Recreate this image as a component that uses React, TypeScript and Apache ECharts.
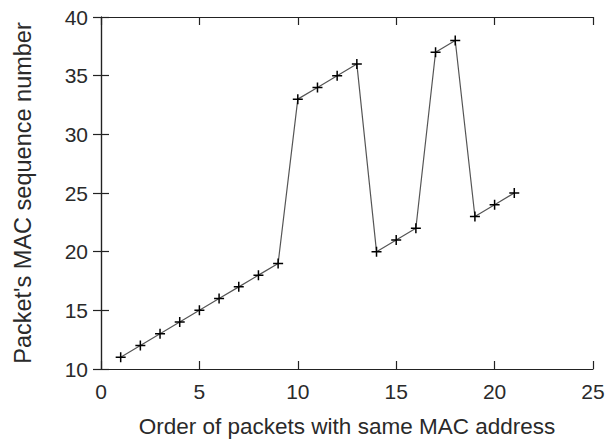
import React, { useEffect, useRef } from "react";
import * as echarts from "echarts";

const orderValues = [1, 2, 3, 4, 5, 6, 7, 8, 9, 10, 11, 12, 13, 14, 15, 16, 17, 18, 19, 20, 21];
const seqValues = [11, 12, 13, 14, 15, 16, 17, 18, 19, 33, 34, 35, 36, 20, 21, 22, 37, 38, 23, 24, 25];

const xTitle = "Order of packets with same MAC address";
const yTitle = "Packet's MAC sequence number";

export default function App() {
  const ref = useRef<HTMLDivElement>(null);
  useEffect(() => {
    if (!ref.current) return;
    const chart = echarts.init(ref.current, undefined, { renderer: "svg" });
    const font = "'Liberation Sans', Arial, sans-serif";
    const axisLine = { show: true, lineStyle: { color: "#222", width: 1.2 } };
    const tick = { show: true, inside: true, length: 8, lineStyle: { color: "#222", width: 1.2 } };
    chart.setOption({
      animation: false,
      backgroundColor: "#fff",
      grid: { left: 101, right: 15, top: 17, bottom: 69 },
      xAxis: [
        {
          type: "value",
          min: 0,
          max: 25,
          interval: 5,
          position: "bottom",
          axisLine,
          axisTick: tick,
          splitLine: { show: false },
          axisLabel: { color: "#2a2a2a", fontSize: 21, fontFamily: font, margin: 12 },
          name: xTitle,
          nameLocation: "middle",
          nameGap: 46,
          nameTextStyle: { color: "#2a2a2a", fontSize: 22.5, fontFamily: font },
        },
        {
          type: "value",
          min: 0,
          max: 25,
          interval: 5,
          position: "top",
          axisLine,
          axisTick: tick,
          splitLine: { show: false },
          axisLabel: { show: false },
        },
      ],
      yAxis: [
        {
          type: "value",
          min: 10,
          max: 40,
          interval: 5,
          position: "left",
          axisLine,
          axisTick: tick,
          splitLine: { show: false },
          axisLabel: { color: "#2a2a2a", fontSize: 21, fontFamily: font, margin: 13 },
          name: yTitle,
          nameLocation: "middle",
          nameGap: 66,
          nameTextStyle: { color: "#2a2a2a", fontSize: 23.5, fontFamily: font },
        },
        {
          type: "value",
          min: 10,
          max: 40,
          interval: 5,
          position: "right",
          axisLine,
          axisTick: tick,
          splitLine: { show: false },
          axisLabel: { show: false },
        },
      ],
      series: [
        {
          type: "line",
          data: orderValues.map((x, i) => [x, seqValues[i]]),
          symbol: "path://M0,-5 L0,5 M-5,0 L5,0",
          symbolSize: 10,
          showAllSymbol: true,
          lineStyle: { color: "#555", width: 1.2 },
          itemStyle: { color: "none", borderColor: "#000", borderWidth: 1.5 },
        },
      ],
    });
    return () => chart.dispose();
  }, []);
  return <div ref={ref} style={{ position: "absolute", left: 0, top: 0, width: 608, height: 443 }} />;
}
